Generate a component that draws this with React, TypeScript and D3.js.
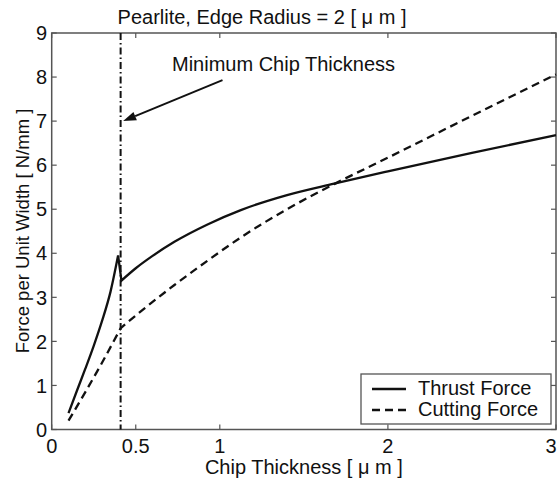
import React from "react";
import * as d3 from "d3";

const xTicks = [0, 0.5, 1, 2, 3];
const yTicks = [0, 1, 2, 3, 4, 5, 6, 7, 8, 9];

const thrustX = [0.1, 0.15, 0.2, 0.25, 0.3, 0.35, 0.395, 0.415, 0.5, 0.6, 0.73, 0.93, 1.125, 1.4, 1.68, 2.0, 2.5, 3.0];
const thrustY = [0.37, 0.88, 1.38, 1.9, 2.47, 3.13, 3.95, 3.38, 3.66, 3.94, 4.26, 4.66, 4.98, 5.32, 5.58, 5.86, 6.28, 6.68];

const cuttingX = [0.1, 0.2, 0.3, 0.41, 0.53, 0.73, 0.93, 1.125, 1.4, 1.68, 2.0, 2.5, 3.0];
const cuttingY = [0.2, 0.85, 1.52, 2.3, 2.68, 3.28, 3.84, 4.36, 5.0, 5.57, 6.17, 7.12, 8.06];

const minChipX = 0.41;
const arrowFrom = [1.016, 7.93];
const arrowTo = [0.425, 7.0];

const title = "Pearlite, Edge Radius = 2 [ \u03bc m ]";
const xLabel = "Chip Thickness [ \u03bc m ]";
const yLabel = "Force per Unit Width [ N/mm ]";
const annotation = "Minimum Chip Thickness";
const legendLabels = ["Thrust Force", "Cutting Force"];

const W = 558;
const H = 480;
const L = 51.7, R = 556, T = 33, B = 429.5;
const FONT = "'Liberation Sans', Arial, Helvetica, sans-serif";
const FS = 20;

export default function App() {
  const x = d3.scaleLinear().domain([0, 3]).range([L, R]);
  const y = d3.scaleLinear().domain([0, 9]).range([B, T]);

  const thrust = thrustX.map((v, i) => [v, thrustY[i]] as [number, number]);
  const cutting = cuttingX.map((v, i) => [v, cuttingY[i]] as [number, number]);
  const peakIdx = thrustY.indexOf(d3.max(thrustY.slice(0, 8)) as number);
  const kinkIdx = cuttingX.indexOf(minChipX);

  const smooth = d3.line<[number, number]>().x(d => x(d[0])).y(d => y(d[1])).curve(d3.curveMonotoneX);
  const straight = d3.line<[number, number]>().x(d => x(d[0])).y(d => y(d[1]));

  const thrustPath =
    (smooth(thrust.slice(0, peakIdx + 1)) || "") +
    (straight(thrust.slice(peakIdx, peakIdx + 2)) || "").replace(/^M[^L]*/, "") +
    (smooth(thrust.slice(peakIdx + 1)) || "").replace(/^M[^LC]*/, "");
  const cuttingPath =
    (smooth(cutting.slice(0, kinkIdx + 1)) || "") +
    (smooth(cutting.slice(kinkIdx)) || "").replace(/^M[^LC]*/, "");

  const ax = x(arrowFrom[0]), ay = y(arrowFrom[1]);
  const bx = x(arrowTo[0]), by = y(arrowTo[1]);
  const ang = Math.atan2(by - ay, bx - ax);
  const hl = 13, hw = 4.5;
  const baseX = bx - hl * Math.cos(ang), baseY = by - hl * Math.sin(ang);
  const head = [
    [bx, by],
    [baseX + hw * Math.sin(ang), baseY - hw * Math.cos(ang)],
    [baseX - hw * Math.sin(ang), baseY + hw * Math.cos(ang)],
  ].map(p => p.join(",")).join(" ");

  const axisColor = "#555";
  const tickLen = 5;

  return (
    <svg width={W} height={H} style={{ position: "absolute", left: 0, top: 0, display: "block", background: "#fff" }} fontFamily={FONT}>
      <rect x={0} y={0} width={W} height={H} fill="#fff" />
      <rect x={L} y={T} width={R - L} height={B - T} fill="none" stroke={axisColor} strokeWidth={1.5} />
      {xTicks.map(t => (
        <g key={"xt" + t}>
          <line x1={x(t)} x2={x(t)} y1={B} y2={B - tickLen} stroke={axisColor} strokeWidth={1.2} />
          <line x1={x(t)} x2={x(t)} y1={T} y2={T + tickLen} stroke={axisColor} strokeWidth={1.2} />
          <text x={Math.min(x(t), 551)} y={453} textAnchor="middle" fontSize={FS} fill="#111">{t}</text>
        </g>
      ))}
      {yTicks.map(t => (
        <g key={"yt" + t}>
          <line x1={L} x2={L + tickLen} y1={y(t)} y2={y(t)} stroke={axisColor} strokeWidth={1.2} />
          <line x1={R} x2={R - tickLen} y1={y(t)} y2={y(t)} stroke={axisColor} strokeWidth={1.2} />
          <text x={47} y={y(t)} dy="0.36em" textAnchor="end" fontSize={FS} fill="#111">{t}</text>
        </g>
      ))}
      <line x1={x(minChipX)} x2={x(minChipX)} y1={T} y2={B} stroke="#111" strokeWidth={2} strokeDasharray="7,3,1.5,3" />
      <path d={thrustPath} fill="none" stroke="#111" strokeWidth={2.3} strokeLinejoin="miter" />
      <path d={cuttingPath} fill="none" stroke="#111" strokeWidth={2.3} strokeDasharray="8,5" />
      <line x1={ax} y1={ay} x2={baseX} y2={baseY} stroke="#111" strokeWidth={2} />
      <polygon points={head} fill="#111" />
      <text x={172} y={71} fontSize={FS} fill="#111">{annotation}</text>
      <rect x={361} y={374} width={190} height={50} fill="#fff" stroke={axisColor} strokeWidth={1.3} />
      <line x1={372} x2={406} y1={389} y2={389} stroke="#111" strokeWidth={2.3} />
      <line x1={372} x2={406} y1={410} y2={410} stroke="#111" strokeWidth={2.3} strokeDasharray="8,5" />
      <text x={418} y={395} fontSize={FS} fill="#111">{legendLabels[0]}</text>
      <text x={418} y={416} fontSize={FS} fill="#111">{legendLabels[1]}</text>
      <text x={262} y={24} textAnchor="middle" fontSize={FS} fill="#111">{title}</text>
      <text x={(L + R) / 2} y={474} textAnchor="middle" fontSize={FS} fill="#111">{xLabel}</text>
      <text transform={`translate(22,231) rotate(-90)`} dy="0.36em" textAnchor="middle" fontSize={18.5} fill="#111">{yLabel}</text>
    </svg>
  );
}
